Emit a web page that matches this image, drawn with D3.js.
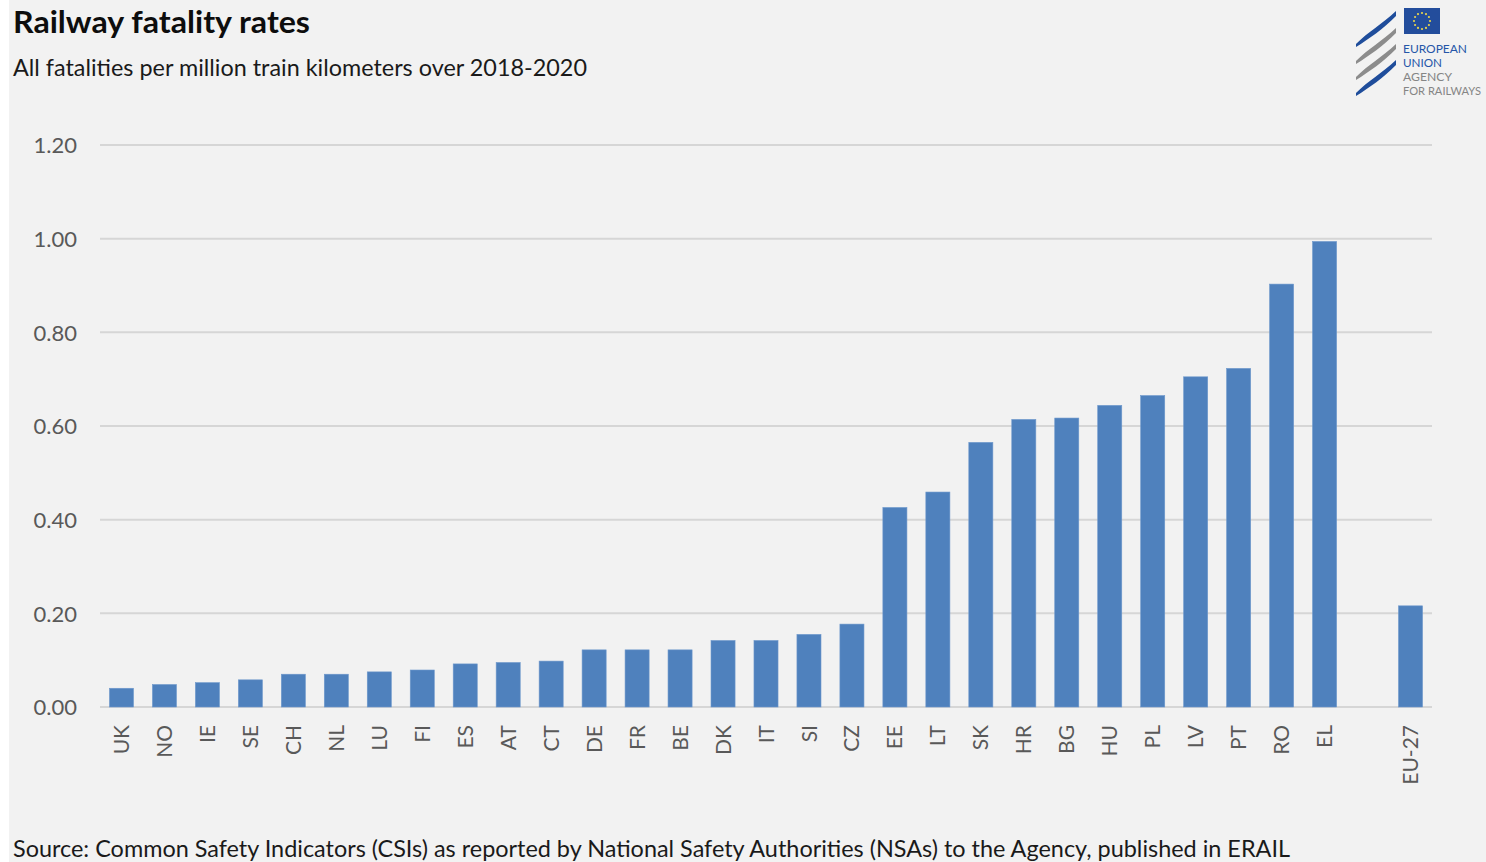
<!DOCTYPE html>
<html>
<head>
<meta charset="utf-8">
<script src="https://cdn.jsdelivr.net/npm/d3@7"></script>
<style>
  html, body { margin: 0; padding: 0; background: #f2f2f2; }
  svg { display: block; }
</style>
</head>
<body>
<svg id="chart" width="1486" height="862"></svg>
<script>
// ---- Data ----
const categories = ["UK","NO","IE","SE","CH","NL","LU","FI","ES","AT","CT","DE","FR","BE","DK","IT","SI","CZ","EE","LT","SK","HR","BG","HU","PL","LV","PT","RO","EL","","EU-27"];
const values = [0.040,0.048,0.052,0.058,0.070,0.070,0.075,0.079,0.092,0.095,0.098,0.122,0.122,0.122,0.142,0.142,0.155,0.177,0.426,0.459,0.565,0.614,0.617,0.644,0.665,0.705,0.723,0.903,0.994,null,0.216];
const yTicks = [0, 0.2, 0.4, 0.6, 0.8, 1.0, 1.2];
const titleText = "Railway fatality rates";
const subtitleText = "All fatalities per million train kilometers over 2018-2020";
const sourceText = "Source: Common Safety Indicators (CSIs) as reported by National Safety Authorities (NSAs) to the Agency, published in ERAIL";
const logoLines = ["EUROPEAN", "UNION", "AGENCY", "FOR RAILWAYS"];
const logoWidths = [64, 39, 49, 78];

const data = categories.map((c, i) => ({ cat: c, key: c === "" ? "_gap" : c, value: values[i] }));

const svg = d3.select("#chart");
const W = 1486, H = 862;
const FONT = "Lato, 'Open Sans', sans-serif";

svg.append("rect").attr("width", W).attr("height", H).attr("fill", "#f2f2f2");
svg.append("rect").attr("width", 9).attr("height", H).attr("fill", "#ffffff");

// ---- Scales ----
const x = d3.scaleBand()
  .domain(data.map(d => d.key))
  .range([100, 1432])
  .paddingInner(0.44)
  .paddingOuter(0.22);

const y = d3.scaleLinear().domain([0, 1.2]).range([707, 145]);

// ---- Gridlines ----
svg.append("g")
  .selectAll("line")
  .data(yTicks)
  .join("line")
  .attr("x1", 100).attr("x2", 1432)
  .attr("y1", d => y(d)).attr("y2", d => y(d))
  .attr("stroke", "#d6d6d6")
  .attr("stroke-width", 2);

// ---- Y axis labels ----
const yAxis = d3.axisLeft(y).tickValues(yTicks).tickFormat(d3.format(".2f")).tickSize(0).tickPadding(0);
const yg = svg.append("g").attr("transform", "translate(77,0)").call(yAxis);
yg.select(".domain").remove();
yg.selectAll("text")
  .attr("font-family", FONT)
  .attr("font-size", 22)
  .attr("fill", "#595959")
  .attr("dy", "0.36em");

// ---- Bars ----
svg.append("g")
  .selectAll("rect")
  .data(data.filter(d => d.value !== null))
  .join("rect")
  .attr("x", d => x(d.key))
  .attr("width", x.bandwidth())
  .attr("y", d => y(d.value))
  .attr("height", d => y(0) - y(d.value))
  .attr("fill", "#4f81bd")
  .attr("stroke", "#6e98cc")
  .attr("stroke-width", 0.6);

// ---- X axis labels ----
const xAxis = d3.axisBottom(x).tickSize(0).tickPadding(0).tickFormat(k => k === "_gap" ? "" : k);
const xg = svg.append("g").attr("transform", "translate(0,725)").call(xAxis);
xg.select(".domain").remove();
xg.selectAll("text")
  .attr("font-family", FONT)
  .attr("font-size", 21)
  .attr("fill", "#595959")
  .attr("text-anchor", "end")
  .attr("transform", "rotate(-90)")
  .attr("x", 0)
  .attr("y", 0)
  .attr("dy", "0.36em");

// ---- Titles ----
svg.append("text")
  .attr("x", 13).attr("y", 33)
  .attr("font-family", FONT).attr("font-weight", "bold")
  .attr("font-size", 31).attr("fill", "#0d0d0d")
  .attr("textLength", 297).attr("lengthAdjust", "spacingAndGlyphs")
  .text(titleText);

svg.append("text")
  .attr("x", 13).attr("y", 76)
  .attr("font-family", FONT)
  .attr("font-size", 23).attr("fill", "#1a1a1a")
  .attr("textLength", 574).attr("lengthAdjust", "spacingAndGlyphs")
  .text(subtitleText);

svg.append("text")
  .attr("x", 13).attr("y", 857)
  .attr("font-family", FONT)
  .attr("font-size", 23).attr("fill", "#1a1a1a")
  .attr("textLength", 1277).attr("lengthAdjust", "spacingAndGlyphs")
  .text(sourceText);

// ---- Logo ----
const logo = svg.append("g");
const stripes = [
  { y0: 44, color: "#1f4d9b" },
  { y0: 61, color: "#8c8c8c" },
  { y0: 77, color: "#8c8c8c" },
  { y0: 93, color: "#1f4d9b" }
];
stripes.forEach(s => {
  const y0 = s.y0;
  const p = `M1356,${y0} C1368,${y0-12} 1382,${y0-20} 1396,${y0-33} L1396,${y0-28} C1383,${y0-15} 1369,${y0-5} 1356,${y0+3} Z`;
  logo.append("path").attr("d", p).attr("fill", s.color);
});
logo.append("rect").attr("x", 1404).attr("y", 8).attr("width", 36).attr("height", 26).attr("fill", "#234d9c");
d3.range(12).forEach(i => {
  const a = i / 12 * 2 * Math.PI;
  logo.append("circle")
    .attr("cx", 1422 + 8 * Math.cos(a))
    .attr("cy", 21 + 8 * Math.sin(a))
    .attr("r", 1.1)
    .attr("fill", "#e8d44d");
});
logo.selectAll("text.logo")
  .data(logoLines)
  .join("text")
  .attr("class", "logo")
  .attr("x", 1403)
  .attr("y", (d, i) => 53 + i * 14)
  .attr("font-family", FONT)
  .attr("font-size", 12)
  .attr("fill", (d, i) => i < 2 ? "#2556a8" : "#858585")
  .attr("textLength", (d, i) => logoWidths[i])
  .attr("lengthAdjust", "spacingAndGlyphs")
  .text(d => d);
</script>
</body>
</html>
